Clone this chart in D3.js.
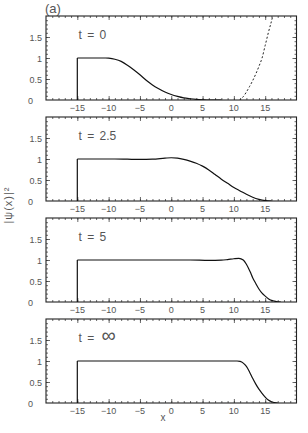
<!DOCTYPE html>
<html>
<head>
<meta charset="utf-8">
<script src="https://cdn.jsdelivr.net/npm/d3@7"></script>
<style>
  body { margin: 0; background: #fff; }
  text { font-family: "Liberation Sans", Arial, sans-serif; fill: #555; }
</style>
</head>
<body>
<script>
const width = 308;
const height = 433;

// data
const xTicks = [-15, -10, -5, 0, 5, 10, 15];
const yTicks = [0, 0.5, 1, 1.5];
const panelLabels = ['t = 0', 't = 2.5', 't = 5', 't = '];

const t0X = [-15, -14, -12, -10.5, -10, -9, -8, -7, -6, -5, -4, -3, -2, -1, 0, 1, 2, 3, 4, 5, 6, 8];
const t0Y = [1, 1, 1, 1, 0.995, 0.97, 0.92, 0.83, 0.72, 0.6, 0.47, 0.36, 0.27, 0.19, 0.13, 0.085, 0.05, 0.03, 0.015, 0.006, 0, 0];

const t25X = [-15, -12, -9, -7, -5, -3, -1, 0, 1, 2, 3, 4, 5, 6, 7, 8, 9, 10, 11, 12, 13, 14, 15, 16];
const t25Y = [1, 1, 1, 0.995, 0.99, 0.995, 1.02, 1.03, 1.02, 0.99, 0.95, 0.9, 0.83, 0.74, 0.63, 0.52, 0.42, 0.32, 0.24, 0.16, 0.09, 0.04, 0.01, 0];

const t5X = [-15, -10, -5, 0, 3, 6, 8, 9, 10, 10.8, 11.5, 12, 12.6, 13, 13.5, 14, 14.5, 15, 15.5, 16, 16.5, 17, 17.5];
const t5Y = [1, 1, 1, 1, 1, 0.99, 0.995, 1.01, 1.03, 1.04, 1.0, 0.9, 0.72, 0.58, 0.44, 0.31, 0.21, 0.14, 0.08, 0.04, 0.02, 0.005, 0];

const tInfX = [-15, 0, 10.5, 11, 11.5, 12, 12.5, 13, 13.5, 14, 14.5, 15, 15.5, 16, 16.5, 17];
const tInfY = [1, 1, 1, 0.99, 0.95, 0.87, 0.74, 0.59, 0.45, 0.33, 0.23, 0.14, 0.07, 0.03, 0.01, 0];

// dashed curve in the first panel
const potX = [10.9, 11.5, 12, 12.5, 13, 13.5, 14, 14.5, 15, 15.5, 16.2, 16.6];
const potY = [0, 0.08, 0.19, 0.32, 0.46, 0.62, 0.8, 1.0, 1.3, 1.6, 2.0, 2.3];

const stepX = -15;

const curves = [
  [t0X, t0Y],
  [t25X, t25Y],
  [t5X, t5Y],
  [tInfX, tInfY]
];

const left = 46, right = 296.5;
const panelH = 84;
const tops = [16, 117, 218, 319];

const svg = d3.select('body')
  .append('svg')
  .attr('width', width)
  .attr('height', height);

const x = d3.scaleLinear().domain([-20, 20]).range([left, right]);

svg.append('text')
  .text('(a)')
  .attr('x', 45)
  .attr('y', 12.5)
  .style('font-size', '13px');

curves.forEach((c, i) => {
  const top = tops[i];
  const y = d3.scaleLinear().domain([0, 2]).range([top + panelH, top]);
  const g = svg.append('g');

  g.append('clipPath')
    .attr('id', 'clip' + i)
    .append('rect')
    .attr('x', left).attr('y', top)
    .attr('width', right - left).attr('height', panelH);

  // inward ticks on all four sides
  const minorX = d3.range(-19, 20);
  const minorY = d3.range(0.1, 2, 0.1);
  g.append('g')
    .attr('transform', `translate(0,${top + panelH})`)
    .call(d3.axisBottom(x).tickValues(minorX).tickSize(-2).tickFormat(''));
  g.append('g')
    .attr('transform', `translate(0,${top + panelH})`)
    .call(d3.axisBottom(x).tickValues(xTicks).tickSize(-4).tickFormat(''));
  g.append('g')
    .attr('transform', `translate(0,${top})`)
    .call(d3.axisTop(x).tickValues(minorX).tickSize(-2).tickFormat(''));
  g.append('g')
    .attr('transform', `translate(0,${top})`)
    .call(d3.axisTop(x).tickValues(xTicks).tickSize(-4).tickFormat(''));
  g.append('g')
    .attr('transform', `translate(${left},0)`)
    .call(d3.axisLeft(y).tickValues(minorY).tickSize(-2).tickFormat(''));
  g.append('g')
    .attr('transform', `translate(${left},0)`)
    .call(d3.axisLeft(y).tickValues([0.5, 1, 1.5]).tickSize(-4).tickFormat(''));
  g.append('g')
    .attr('transform', `translate(${right},0)`)
    .call(d3.axisRight(y).tickValues(minorY).tickSize(-2).tickFormat(''));
  g.append('g')
    .attr('transform', `translate(${right},0)`)
    .call(d3.axisRight(y).tickValues([0.5, 1, 1.5]).tickSize(-4).tickFormat(''));
  g.selectAll('.domain').remove();
  g.selectAll('.tick line').attr('stroke', '#444').attr('stroke-width', 0.8);

  g.append('rect')
    .attr('x', left).attr('y', top)
    .attr('width', right - left).attr('height', panelH)
    .attr('fill', 'none')
    .attr('stroke', '#222')
    .attr('stroke-width', 1.1);

  // tick labels
  g.selectAll('.xl')
    .data(xTicks)
    .enter()
    .append('text')
    .text(d => d < 0 ? '\u2212' + Math.abs(d) : d)
    .attr('x', d => x(d))
    .attr('y', top + panelH + 10.5)
    .attr('text-anchor', 'middle')
    .style('font-size', '9px');

  g.selectAll('.yl')
    .data(yTicks)
    .enter()
    .append('text')
    .text(d => d)
    .attr('x', d => d === 0 ? 33 : 42)
    .attr('y', d => y(d) + 3.5)
    .attr('text-anchor', 'end')
    .style('font-size', '9px');

  const lab = g.append('text')
    .attr('x', x(-14.8))
    .attr('y', top + 22.5)
    .style('font-size', '12px')
    .style('word-spacing', '2px');
  lab.append('tspan').text(panelLabels[i]);
  if (i === 3) {
    lab.append('tspan')
      .text('\u221e')
      .attr('dx', 2)
      .style('font-size', '20px');
  }

  const pts = c[0].map((v, k) => [v, c[1][k]]);
  const line = d3.line()
    .x(d => x(d[0]))
    .y(d => y(d[1]))
    .curve(d3.curveMonotoneX);

  g.append('path')
    .attr('d', d3.line()([[x(stepX), y(0)], [x(stepX), y(1)]]))
    .attr('stroke', '#111')
    .attr('stroke-width', 1.2)
    .attr('fill', 'none');

  g.append('path')
    .datum(pts)
    .attr('d', line)
    .attr('clip-path', `url(#clip${i})`)
    .attr('stroke', '#111')
    .attr('stroke-width', 1.2)
    .attr('fill', 'none');

  if (i === 0) {
    g.append('path')
      .datum(potX.map((v, k) => [v, potY[k]]))
      .attr('d', line)
      .attr('clip-path', `url(#clip${i})`)
      .attr('stroke', '#222')
      .attr('stroke-width', 1)
      .attr('stroke-dasharray', '2,2')
      .attr('fill', 'none');
  }
});

svg.append('text')
  .text('x')
  .attr('x', 163)
  .attr('y', 421)
  .attr('text-anchor', 'middle')
  .style('font-size', '10px');

svg.append('text')
  .text('|\u03c8(x)|\u00b2')
  .attr('transform', 'translate(12,205) rotate(-90)')
  .attr('text-anchor', 'middle')
  .style('font-size', '11px')
  .style('letter-spacing', '1px');
</script>
</body>
</html>
